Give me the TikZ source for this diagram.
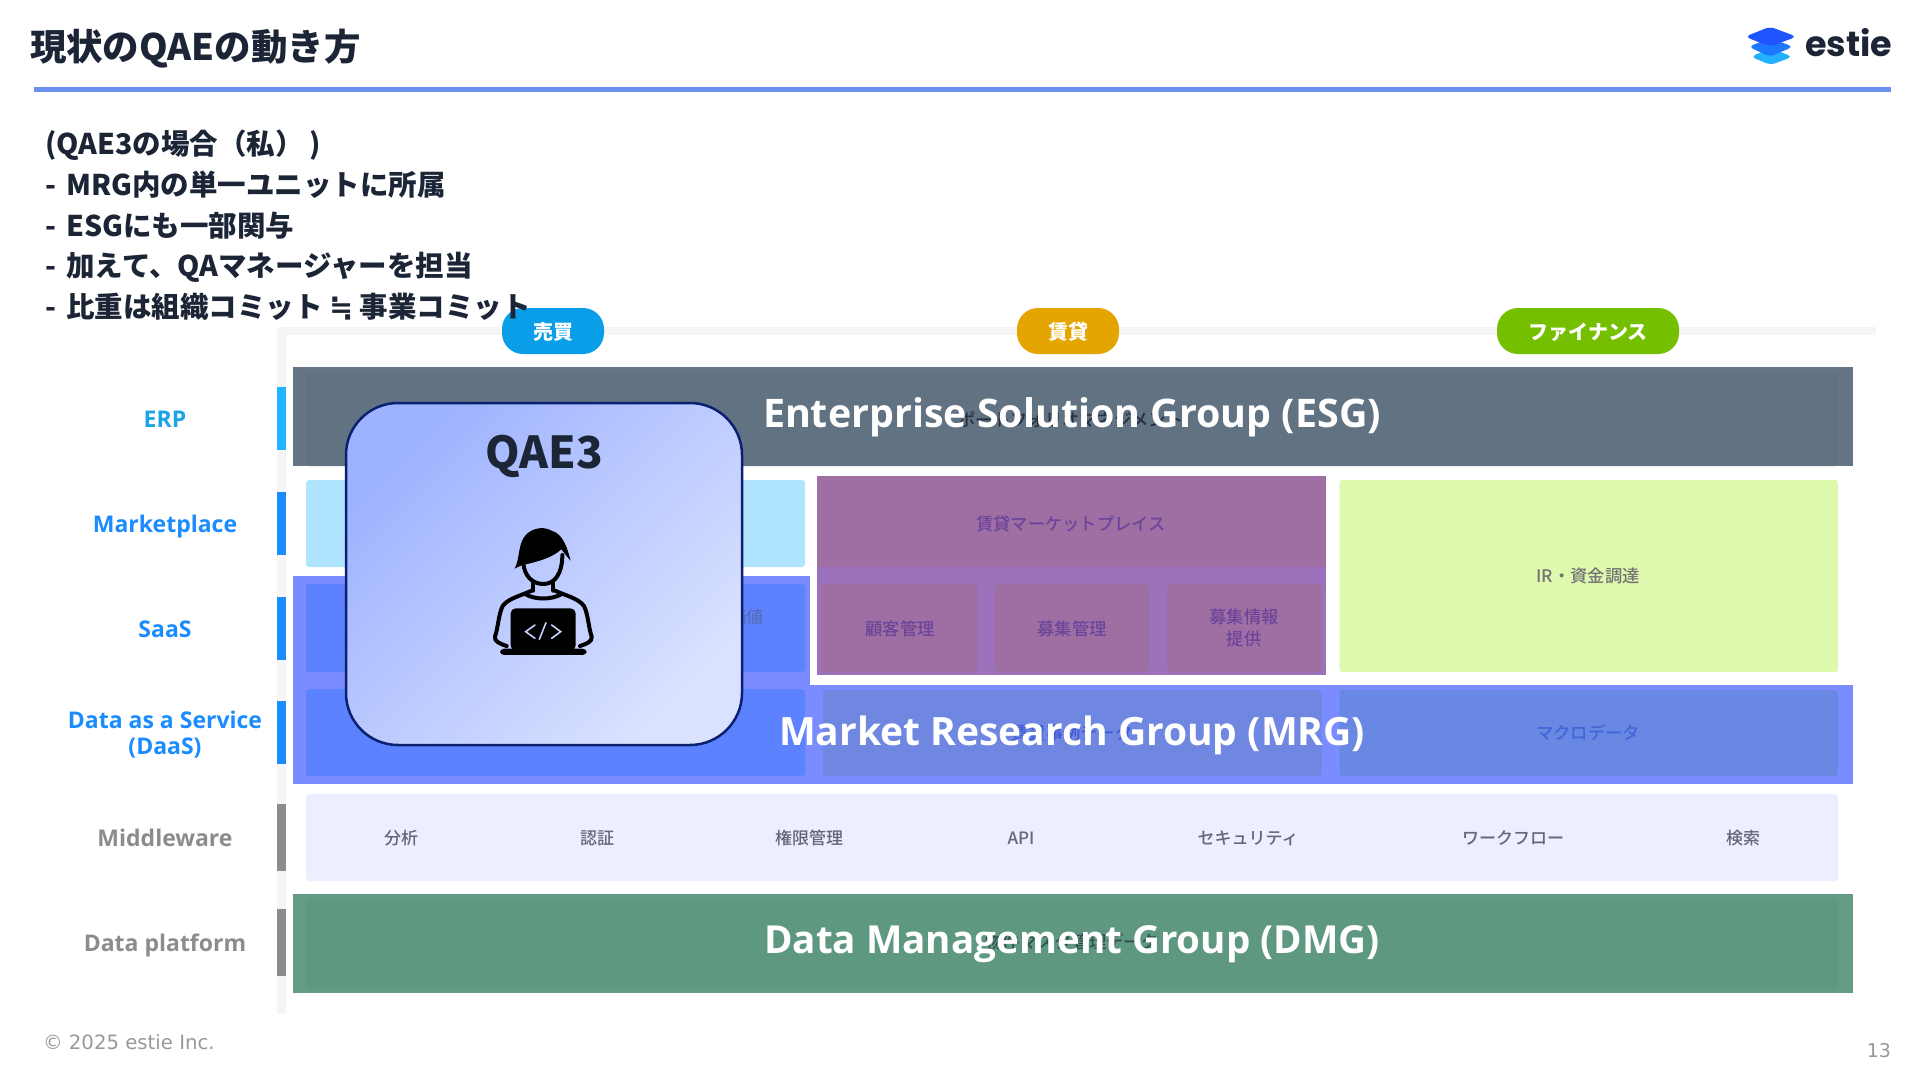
\documentclass[tikz,border=0pt]{standalone}
\usepackage{fontspec}
\setmainfont{Noto Sans CJK JP}
\newfontfamily\bandfont{Open Sans}
\newfontfamily\logofont{Poppins}
\newfontfamily\footfont{DejaVu Sans}
\newfontfamily\medfont{Noto Sans CJK JP Medium}
\newcommand{\pxsize}[1]{\fontsize{#1}{#1}\selectfont}
\newcommand{\approxsym}{{\footfont\bfseries ≒}}
\definecolor{ink}{HTML}{1C2536}
\definecolor{rule}{HTML}{6C8FF0}
\definecolor{railgrey}{HTML}{F5F5F5}
\definecolor{barsky}{HTML}{1FB6FF}
\definecolor{barblue}{HTML}{1A8CFF}
\definecolor{bargrey}{HTML}{8C8C8C}
\definecolor{esgout}{HTML}{667583}
\definecolor{esgin}{HTML}{617282}
\definecolor{mrgout}{HTML}{7A8CFF}
\definecolor{mrgblue}{HTML}{5C82FF}
\definecolor{mrgmid}{HTML}{6F87E0}
\definecolor{mrgright}{HTML}{6888E3}
\definecolor{purpout}{HTML}{9B72BB}
\definecolor{purpin}{HTML}{9F6EA3}
\definecolor{purptext}{HTML}{6C449A}
\definecolor{skybox}{HTML}{B0E5FF}
\definecolor{limebox}{HTML}{DEF8AE}
\definecolor{midbox}{HTML}{EBEFFF}
\definecolor{dmgout}{HTML}{649C83}
\definecolor{dmgin}{HTML}{5F9880}
\definecolor{qaeedge}{HTML}{0A2070}
\definecolor{codecol}{HTML}{C4D2FF}
\tikzset{
  x=1pt,y=-1pt,
  txt/.style={inner sep=0pt,outer sep=0pt,anchor=base},
  titletxt/.style={txt,anchor=base west,text=ink,font=\bfseries\pxsize{36.5}},
  bodytxt/.style={txt,anchor=base west,text=ink,font=\bfseries\pxsize{28.5}},
  pilltxt/.style={txt,text=white,font=\bfseries\pxsize{20}},
  rowlabel/.style={txt,align=center,font=\bandfont\bfseries\pxsize{23}},
  midtxt/.style={txt,text=black!60!blue!20!gray,font=\medfont\pxsize{17}},
  ghost/.style={txt,font=\medfont\pxsize{17.3}},
  bandtxt/.style={txt,text=white,font=\bandfont\bfseries\pxsize{39}},
  pillshape/.style={rounded corners=21pt},
  softbox/.style={rounded corners=3pt},
  codeline/.style={draw=codecol,line width=1.6pt,line cap=round,line join=miter},
  bodyline/.style={draw=black,line width=4pt,line cap=round,line join=round},
}
\begin{document}
\begin{tikzpicture}
\useasboundingbox (0,0) rectangle (1920,1080);
\fill[white] (0,0) rectangle (1920,1080);

% header
\node[titletxt] (title) at (30,60) {現状のQAEの動き方};
\fill[rule] (33.5,87) rectangle (1891,92);

% logo
\begin{scope}[shift={(1730,15)},scale=0.3333]
  \fill[rounded corners=5pt,color={rgb,255:red,34;green,176;blue,255}] (62,125) -- (122,100) -- (188,125) -- (122,150) -- cycle;
  \fill[rounded corners=5pt,color={rgb,255:red,30;green,120;blue,255}] (55,95) -- (120,70) -- (190,95) -- (120,125) -- cycle;
  \fill[rounded corners=5pt,color={rgb,255:red,31;green,85;blue,255}] (45,65) -- (120,35) -- (200,65) -- (120,95) -- cycle;
\end{scope}
\node[txt,anchor=base west,text=ink,font=\logofont\bfseries\pxsize{35}] (estie) at (1805,56) {estie};

% rails
\fill[railgrey] (277,327) rectangle (1876,335);
\fill[railgrey] (277,327) rectangle (286,1014);

% rail bars
\fill[barsky]  (277,387) rectangle (286,450);
\fill[barblue] (277,492) rectangle (286,555);
\fill[barblue] (277,597) rectangle (286,660);
\fill[barblue] (277,701) rectangle (286,764);
\fill[bargrey] (277,804) rectangle (286,871);
\fill[bargrey] (277,909) rectangle (286,976);

% row labels
\node[rowlabel,text=barsky!90!black] (lerp) at (165,427) {ERP};
\node[rowlabel,text=barblue] (lmkt) at (165,532) {Marketplace};
\node[rowlabel,text=barblue] (lsaas) at (165,637) {SaaS};
\node[rowlabel,text=barblue] (ldaas1) at (165,728) {Data as a Service};
\node[rowlabel,text=barblue] (ldaas2) at (165,754) {(DaaS)};
\node[rowlabel,text=bargrey] (lmid) at (165,846) {Middleware};
\node[rowlabel,text=bargrey] (ldata) at (165,951) {Data platform};

% pills
\fill[pillshape,color={rgb,255:red,10;green,157;blue,232}] (502,308) rectangle (604,354);
\node[pilltxt] (pbuy) at (553,339) {売買};
\fill[pillshape,color={rgb,255:red,229;green,165;blue,0}] (1017,308) rectangle (1119,354);
\node[pilltxt] (prent) at (1068,339) {賃貸};
\fill[pillshape,color={rgb,255:red,116;green,192;blue,0}] (1497,308) rectangle (1679,354);
\node[pilltxt] (pfin) at (1588,339) {ファイナンス};

% ESG band
\fill[esgout] (292.5,367) rectangle (1852.5,466);
\fill[esgin,softbox] (306,372) rectangle (1838,466);
\node[ghost,text=ink!85!esgin] (gesg) at (1071,426) {ポートフォリオマネジメント};
\node[bandtxt,font=\bandfont\bfseries\pxsize{39.4}] (esg) at (1072,427) {Enterprise Solution Group (ESG)};

% market row
\fill[skybox,softbox] (306,480) rectangle (805,567);

% purple group
\fill[purpout] (817,476) rectangle (1326,675);
\fill[purpin] (817,476) rectangle (1326,567);
\fill[purpin,softbox] (821,584) rectangle (977,672);
\fill[purpin,softbox] (995,584) rectangle (1149,672);
\fill[purpin,softbox] (1167,584) rectangle (1322,672);
\node[ghost,text=purptext] (trmkt) at (1071,530) {賃貸マーケットプレイス};
\node[ghost,text=purptext] (tcust) at (900,635) {顧客管理};
\node[ghost,text=purptext] (tbosh) at (1072,635) {募集管理};
\node[ghost,text=purptext] (tinfo1) at (1244,623) {募集情報};
\node[ghost,text=purptext] (tinfo2) at (1244,645) {提供};

% lime box
\fill[limebox,softbox] (1339.5,480) rectangle (1838,672);
\node[ghost,text=gray!90!black] (tir) at (1588,582) {IR・資金調達};

% MRG band and left block
\fill[mrgout] (292.5,576) rectangle (810,685);
\fill[mrgout] (292.5,685) rectangle (1852.5,784);
\fill[mrgblue,softbox] (306,584) rectangle (805,672);
\fill[mrgblue,softbox] (306,689) rectangle (805,776);
\fill[mrgmid,softbox] (823,690) rectangle (1321.5,776);
\fill[mrgright,softbox] (1339.5,690) rectangle (1838,776);
\node[ghost,text=mrgblue!70!gray!85!black,anchor=base east] (tval) at (764,623) {価値};
\node[ghost,text={rgb,255:red,62;green,90;blue,215}] (tcase) at (1072,739) {賃貸事例データ};
\node[ghost,text={rgb,255:red,68;green,100;blue,218}] (tmacro) at (1588,739) {マクロデータ};
\node[bandtxt] (mrg) at (1072,745) {Market Research Group (MRG)};

% middleware
\fill[midbox,softbox] (306,794) rectangle (1838,881);
\node[midtxt] (m1) at (401,844) {分析};
\node[midtxt] (m2) at (597,844) {認証};
\node[midtxt] (m3) at (809,844) {権限管理};
\node[midtxt] (m4) at (1021,844) {API};
\node[midtxt] (m5) at (1248,844) {セキュリティ};
\node[midtxt] (m6) at (1513,844) {ワークフロー};
\node[midtxt] (m7) at (1743,844) {検索};

% DMG band
\fill[dmgout] (292.5,894) rectangle (1852.5,993);
\fill[dmgin,softbox] (306,899) rectangle (1838,988);
\node[ghost,text=ink!65!dmgin] (gdmg) at (1072,948) {物件マスタ管理データ};
\node[bandtxt,font=\bandfont\bfseries\pxsize{38.6}] (dmg) at (1072,953) {Data Management Group (DMG)};

% QAE3 card
\path[draw=qaeedge,line width=2.5pt,rounded corners=52pt,shade,top color={rgb,255:red,158;green,179;blue,255},bottom color={rgb,255:red,218;green,226;blue,255},shading angle=45] (346,403) rectangle (742,745);
\node[txt,text=ink,font=\bfseries\pxsize{44}] (qae) at (544,468) {QAE3};

% engineer icon
\begin{scope}[shift={(480,520)},scale=0.3333]
  % face and neck
  \draw[bodyline] (130,130) .. controls (133,165) and (155,192) .. (190,192) .. controls (225,192) and (247,160) .. (247,105);
  \draw[bodyline] (160,190) -- (160,212);
  \draw[bodyline] (220,190) -- (220,212);
  \draw[bodyline] (135,222) .. controls (165,240) and (215,240) .. (245,222);
  % shoulders and arms
  \draw[bodyline] (155,212) .. controls (120,228) and (85,235) .. (68,258) .. controls (55,285) and (55,320) .. (45,350) .. controls (42,365) and (62,372) .. (80,378);
  \draw[bodyline] (225,212) .. controls (260,228) and (295,235) .. (312,258) .. controls (325,285) and (325,320) .. (335,350) .. controls (338,365) and (318,372) .. (300,378);
  % hair
  \fill[black] (104,146) .. controls (118,120) and (115,80) .. (130,55) .. controls (145,28) and (185,15) .. (215,32) .. controls (250,42) and (262,85) .. (272,122) .. controls (262,112) and (254,100) .. (244,88) .. controls (215,115) and (170,125) .. (134,134) .. controls (122,136) and (112,142) .. (104,146) -- cycle;
  % laptop
  \fill[black,rounded corners=5pt] (92,265) rectangle (287,392);
  \fill[black,rounded corners=4pt] (60,386) rectangle (320,405);
  \draw[codeline] (165,315) -- (137,335) -- (165,355);
  \draw[codeline] (198,308) -- (178,358);
  \draw[codeline] (215,315) -- (242,335) -- (215,355);
\end{scope}

% body text
\node[bodytxt] (b1) at (45,154) {(QAE3の場合（私）\hspace{6pt})};
\node[bodytxt] (b2) at (45,195) {-\hspace{4pt} MRG内の単一ユニットに所属};
\node[bodytxt] (b3) at (45,236) {-\hspace{4pt} ESGにも一部関与};
\node[bodytxt] (b4) at (45,276) {-\hspace{4pt} 加えて、QAマネージャーを担当};
\node[bodytxt] (b5) at (45,317) {-\hspace{4pt} 比重は組織コミット \approxsym{} 事業コミット};

% footer
\node[txt,anchor=base west,text=gray!80,font=\footfont\pxsize{19.7}] (copy) at (43,1049) {© 2025 estie Inc.};
\node[txt,anchor=base east,text=gray!80,font=\footfont\pxsize{19}] (pno) at (1891,1057) {13};
\end{tikzpicture}
\end{document}
